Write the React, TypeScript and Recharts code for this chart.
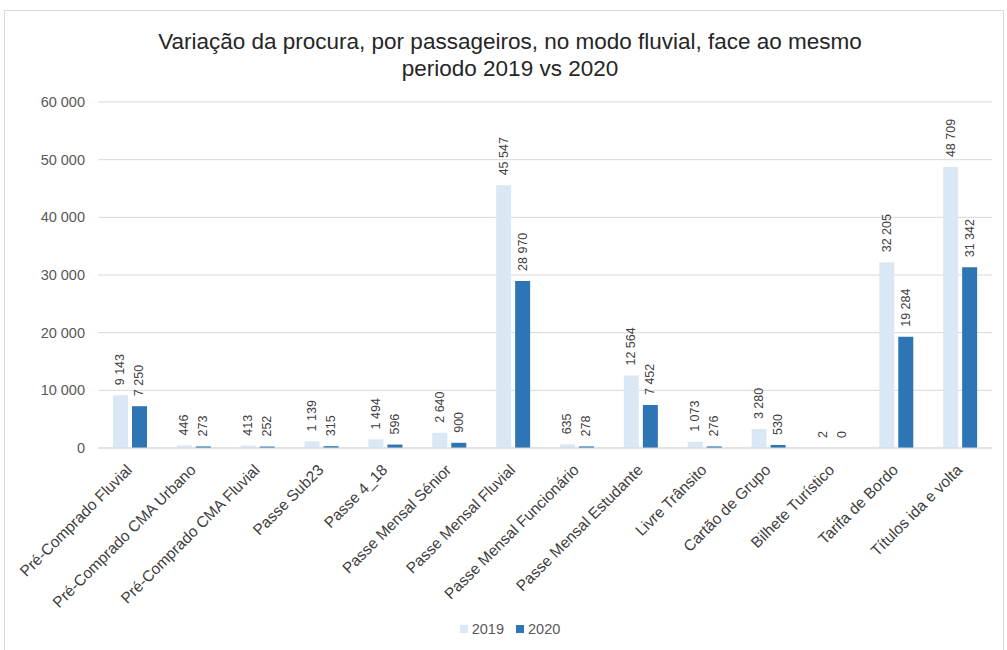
import { BarChart, Bar, XAxis, YAxis, CartesianGrid, LabelList, ReferenceDot } from 'recharts';

const categorias = [
  'Pré-Comprado Fluvial',
  'Pré-Comprado CMA Urbano',
  'Pré-Comprado CMA Fluvial',
  'Passe Sub23',
  'Passe 4_18',
  'Passe Mensal Sénior',
  'Passe Mensal Fluvial',
  'Passe Mensal Funcionário',
  'Passe Mensal Estudante',
  'Livre Trânsito',
  'Cartão de Grupo',
  'Bilhete Turístico',
  'Tarifa de Bordo',
  'Títulos ida e volta',
];
const valores2019 = [9143, 446, 413, 1139, 1494, 2640, 45547, 635, 12564, 1073, 3280, 2, 32205, 48709];
const valores2020 = [7250, 273, 252, 315, 596, 900, 28970, 278, 7452, 276, 530, 0, 19284, 31342];
const ticksY = [0, 10000, 20000, 30000, 40000, 50000, 60000];

const dados = categorias.map((c, i) => ({ nome: c, a2019: valores2019[i], a2020: valores2020[i] }));

const fmt = (v: number) => String(v).replace(/\B(?=(\d{3})+(?!\d))/g, ' ');

const FONTE = 'Arial, "Liberation Sans", sans-serif';
const COR_2019 = '#dae8f5';
const COR_2020 = '#2e75b6';

function textoVertical(cx: number, cy: number, valor: number) {
  return (
    <text x={cx} y={cy} transform={`rotate(-90, ${cx}, ${cy})`} textAnchor="start" dominantBaseline="central"
      fontSize={12.5} fill="#404040" fontFamily={FONTE}>
      {fmt(valor)}
    </text>
  );
}

function RotuloBarra(props: any) {
  const { x, y, width, value } = props;
  return textoVertical(x + width / 2, y - 10, value);
}

function TickX(props: any) {
  const { x, y, payload } = props;
  const tx = x + 3;
  const ty = y + 15;
  return (
    <text x={tx} y={ty} transform={`rotate(-45, ${tx}, ${ty})`} textAnchor="end" fontSize={15.5} fill="#404040" fontFamily={FONTE}>
      {payload.value}
    </text>
  );
}

export default function App() {
  return (
    <div style={{ position: 'absolute', left: 0, top: 0, width: 1007, height: 650, background: '#fff', fontFamily: FONTE }}>
      <div style={{ position: 'absolute', left: 4, top: 10, width: 1000, height: 660, border: '1px solid #d9d9d9', boxSizing: 'border-box' }} />
      <div style={{ position: 'absolute', left: 0, top: 28, width: 1020, textAlign: 'center', fontSize: 22.5, lineHeight: '27px', color: '#262626' }}>
        Variação da procura, por passageiros, no modo fluvial, face ao mesmo
        <br />
        periodo 2019 vs 2020
      </div>
      <div style={{ position: 'absolute', left: 0, top: 0 }}>
        <BarChart width={1007} height={650} data={dados} margin={{ top: 102, right: 15, left: 0, bottom: 52 }}
          barGap={4} barSize={15}>
          <CartesianGrid vertical={false} stroke="#d9d9d9" />
          <XAxis dataKey="nome" interval={0} height={150} tick={<TickX />} tickLine={false} axisLine={{ stroke: '#d9d9d9' }} />
          <YAxis width={98} domain={[0, 60000]} ticks={ticksY} tickFormatter={fmt} tickLine={false} axisLine={false}
            tickMargin={7} tick={{ fontSize: 14.5, fill: '#595959', fontFamily: FONTE }} />
          <Bar dataKey="a2019" name="2019" fill={COR_2019} isAnimationActive={false}>
            <LabelList dataKey="a2019" content={<RotuloBarra />} />
          </Bar>
          <Bar dataKey="a2020" name="2020" fill={COR_2020} isAnimationActive={false}>
            <LabelList dataKey="a2020" content={<RotuloBarra />} />
          </Bar>
          {categorias.map((c, i) =>
            valores2020[i] === 0 ? (
              <ReferenceDot key={'z' + i} x={c} y={0} r={0} ifOverflow="visible"
                shape={(p: any) => textoVertical(p.cx + 9.5, p.cy - 10, 0)} />
            ) : null
          )}
        </BarChart>
      </div>
      <div style={{ position: 'absolute', top: 621, left: 0, width: 1020, display: 'flex', justifyContent: 'center', gap: 12, fontSize: 14.5, color: '#595959' }}>
        <span style={{ display: 'flex', alignItems: 'center', gap: 4 }}>
          <span style={{ width: 8, height: 8, background: COR_2019, display: 'inline-block' }} />2019
        </span>
        <span style={{ display: 'flex', alignItems: 'center', gap: 4 }}>
          <span style={{ width: 8, height: 8, background: COR_2020, display: 'inline-block' }} />2020
        </span>
      </div>
    </div>
  );
}
